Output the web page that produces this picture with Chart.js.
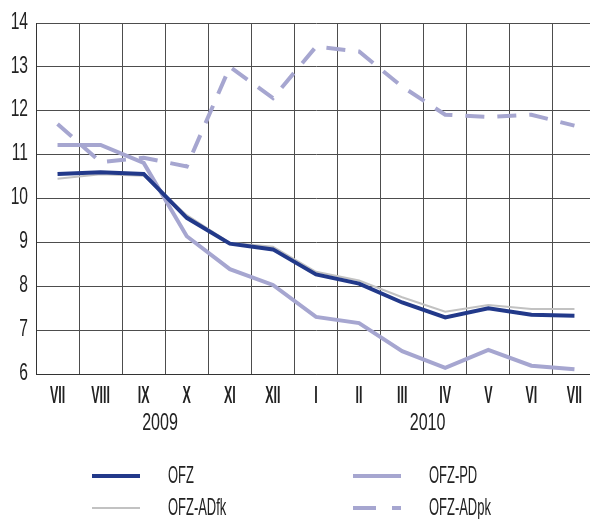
<!DOCTYPE html>
<html lang="en">
<head>
  <meta charset="UTF-8" />
  <title>OFZ yields</title>
  <script src="https://cdn.jsdelivr.net/npm/chart.js"></script>
  <style>
    body { margin: 0; width: 590px; height: 519px; overflow: hidden; background: #fff; font-family: 'Liberation Sans', Arial, sans-serif; }
    #wrap { position: relative; width: 590px; height: 519px; overflow: hidden; }
    #chart { position: absolute; left: 0; top: 0; }
    .leg { position: absolute; font-size: 24px; color: #222; line-height: 24px; white-space: nowrap; transform: scaleX(0.54); transform-origin: left center; }
    .swatch { position: absolute; }
  </style>
</head>
<body>
  <div id="wrap">
    <canvas id="chart" width="596" height="519"></canvas>
    <div id="legend"></div>
  </div>

  <script>
    const months = ['VII', 'VIII', 'IX', 'X', 'XI', 'XII', 'I', 'II', 'III', 'IV', 'V', 'VI', 'VII'];
    const years = ['2009', '2010'];
    const yearAnchor = [2.38, 8.59]; // category index under which the year sits

    const ofz     = [10.56, 10.60, 10.56, 9.56, 8.97, 8.84, 8.27, 8.06, 7.63, 7.29, 7.50, 7.35, 7.33];
    const ofzAdfk = [10.45, 10.55, 10.52, 9.62, 8.99, 8.90, 8.33, 8.13, 7.75, 7.42, 7.57, 7.48, 7.48];
    const ofzPd   = [11.22, 11.22, 10.81, 9.14, 8.39, 8.03, 7.30, 7.16, 6.52, 6.14, 6.55, 6.19, 6.11];
    const ofzAdpk = [11.70, 10.83, 10.93, 10.73, 13.00, 12.29, 13.46, 13.35, 12.55, 11.91, 11.86, 11.91, 11.66];

    const fontFamily = "'Liberation Sans', Arial, sans-serif";
    const navy = '#22398a';
    const lilac = '#a6a6d0';
    const grey = '#c2c2c2';

    // the original uses a very narrow face; squeeze a normal one horizontally
    function narrowText(ctx, text, x, y, align, sx) {
      ctx.save();
      ctx.translate(x, y);
      ctx.scale(sx, 1);
      ctx.textAlign = align;
      ctx.fillText(text, 0, 0);
      ctx.restore();
    }

    const labelPlugin = {
      id: 'narrowLabels',
      afterDraw(chart) {
        const ctx = chart.ctx;
        const xs = chart.scales.x;
        const ys = chart.scales.y;
        ctx.save();
        ctx.fillStyle = '#222';
        ctx.textBaseline = 'middle';
        ctx.font = 'bold 24px ' + fontFamily;
        months.forEach((m, i) => narrowText(ctx, m, xs.getPixelForTick(i), 396, 'center', 0.52));
        ctx.font = '24px ' + fontFamily;
        ys.ticks.forEach(t => narrowText(ctx, String(t.value), 28, ys.getPixelForValue(t.value) - 1, 'right', 0.65));
        years.forEach((y, i) => narrowText(ctx, y, xs.getPixelForValue(yearAnchor[i]), 423, 'center', 0.67));
        ctx.restore();
      }
    };

    new Chart(document.getElementById('chart'), {
      type: 'line',
      data: {
        labels: months,
        datasets: [
          { label: 'OFZ', data: ofz, borderColor: navy, borderWidth: 4, order: 0 },
          { label: 'OFZ-ADfk', data: ofzAdfk, borderColor: grey, borderWidth: 2, order: 1 },
          { label: 'OFZ-PD', data: ofzPd, borderColor: lilac, borderWidth: 4, order: 2 },
          { label: 'OFZ-ADpk', data: ofzAdpk, borderColor: lilac, borderWidth: 4, borderDash: [19, 13], order: 3 }
        ]
      },
      options: {
        responsive: false,
        animation: false,
        elements: { point: { radius: 0 }, line: { tension: 0, borderJoinStyle: 'miter' } },
        layout: { padding: { top: 23 } },
        plugins: { legend: { display: false }, tooltip: { enabled: false } },
        scales: {
          x: {
            offset: true,
            grid: { offset: true, color: '#4d4d4d', lineWidth: 1, drawTicks: false },
            border: { color: '#333', width: 1 },
            ticks: { display: false, autoSkip: false },
            afterFit(scale) { scale.height = 145; }
          },
          y: {
            min: 6, max: 14,
            grid: { color: '#4d4d4d', lineWidth: 1, drawTicks: false },
            border: { color: '#333', width: 1 },
            ticks: { display: false, stepSize: 1 },
            afterFit(scale) { scale.width = 36; }
          }
        }
      },
      plugins: [labelPlugin]
    });

    // legend, two columns like the original
    const legendItems = [
      { text: 'OFZ', color: navy, width: 4, dash: false, left: 92, top: 476 },
      { text: 'OFZ-PD', color: lilac, width: 4, dash: false, left: 353, top: 476 },
      { text: 'OFZ-ADfk', color: grey, width: 2, dash: false, left: 92, top: 508 },
      { text: 'OFZ-ADpk', color: lilac, width: 4, dash: true, left: 353, top: 508 }
    ];
    const legend = document.getElementById('legend');
    legendItems.forEach(it => {
      const t = it.top - it.width / 2;
      if (it.dash) {
        legend.innerHTML += `<div class="swatch" style="left:${it.left}px;top:${t}px;width:23px;height:${it.width}px;background:${it.color}"></div>`;
        legend.innerHTML += `<div class="swatch" style="left:${it.left + 39}px;top:${t}px;width:9px;height:${it.width}px;background:${it.color}"></div>`;
      } else {
        legend.innerHTML += `<div class="swatch" style="left:${it.left}px;top:${t}px;width:48px;height:${it.width}px;background:${it.color}"></div>`;
      }
      legend.innerHTML += `<div class="leg" style="left:${it.left + 76}px;top:${it.top - 13}px">${it.text}</div>`;
    });
  </script>
</body>
</html>
